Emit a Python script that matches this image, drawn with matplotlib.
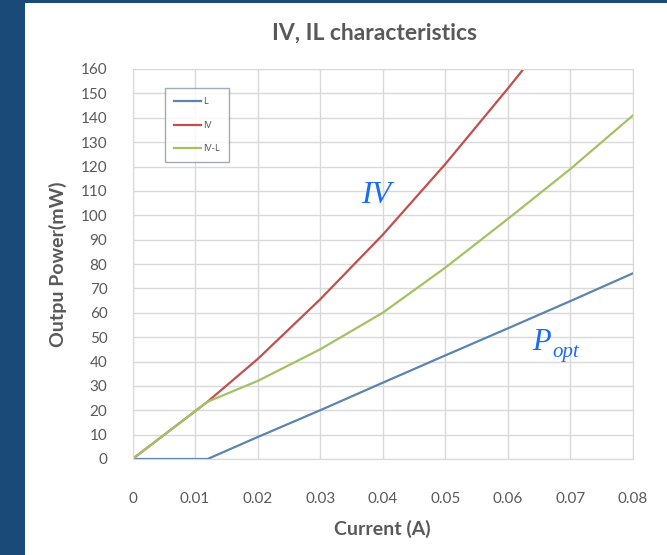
import matplotlib

matplotlib.use("Agg")
import matplotlib.pyplot as plt  # noqa: E402
from matplotlib.patches import Rectangle  # noqa: E402

CURRENT = [0.0, 0.012, 0.02, 0.03, 0.04, 0.05, 0.06, 0.07, 0.08]
L = [0.0, 0.0, 9.0, 20.0, 31.3, 42.5, 53.6, 64.8, 76.2]
IV = [0.0, 23.5, 41.0, 65.5, 92.0, 121.0, 152.0, 184.0, 217.0]
IV_MINUS_L = [0.0, 23.5, 32.0, 45.0, 60.0, 78.5, 98.5, 119.0, 141.0]
X_TICKS = [0, 0.01, 0.02, 0.03, 0.04, 0.05, 0.06, 0.07, 0.08]
X_TICK_LABELS = ["0", "0.01", "0.02", "0.03", "0.04", "0.05", "0.06", "0.07", "0.08"]
Y_TICKS = list(range(0, 161, 10))

W, H = 667, 555
TXT = "#595959"
GRID = "#d9d9d9"

plt.rcParams["font.family"] = ["Lato", "DejaVu Sans"]

fig = plt.figure(figsize=(W / 100, H / 100), dpi=100, facecolor="#1a4a78")
# white slide panel behind everything
fig.patches.append(
    Rectangle((25 / W, 0), 1 - 25 / W, 1 - 3 / H, transform=fig.transFigure,
              facecolor="white", edgecolor="none", zorder=-10)
)

ax = fig.add_axes([132.5 / W, 1 - 459 / H, (633 - 132.5) / W, (459 - 69) / H])
ax.set_zorder(1)
ax.set_facecolor("white")

ax.plot(CURRENT, L, color="#5b84b1", lw=1.6, label="L")
ax.plot(CURRENT, IV, color="#c0504d", lw=1.6, label="IV")
ax.plot(CURRENT, IV_MINUS_L, color="#a4c264", lw=1.6, label="IV-L")

ax.set_xlim(0, 0.08)
ax.set_ylim(0, 160)
ax.set_xticks(X_TICKS)
ax.set_xticklabels(X_TICK_LABELS)
ax.set_yticks(Y_TICKS)
ax.grid(True, color=GRID, lw=1)
ax.set_axisbelow(True)
for s in ax.spines.values():
    s.set_color(GRID)
ax.tick_params(length=0, colors=TXT, labelsize=11)
ax.tick_params(axis="x", pad=24)
ax.tick_params(axis="y", pad=18)

ax.set_xlabel("Current (A)", fontsize=14, fontweight="bold", color=TXT, labelpad=10)
ax.set_ylabel("Outpu Power(mW)", fontsize=14, fontweight="bold", color=TXT, labelpad=10)
fig.text(375 / W, 1 - 33 / H, "IV, IL characteristics", ha="center", va="center",
         fontsize=16.5, fontweight="bold", color=TXT)

leg = ax.legend(loc="upper left", bbox_to_anchor=(0.055, 0.962), fontsize=6.5,
                frameon=True, fancybox=False, handlelength=3, labelspacing=1.6,
                borderpad=1.0, handletextpad=0.3, labelcolor=TXT)
leg.get_frame().set_edgecolor("#8a95a5")
leg.get_frame().set_linewidth(1)

serif = ["Liberation Serif", "DejaVu Serif"]
fig.text(361 / W, 1 - 203 / H, "IV", family=serif, style="italic",
         fontsize=23, color="#1a6cf0", ha="left", va="baseline", zorder=5)
fig.text(532 / W, 1 - 350 / H, "P", family=serif, style="italic",
         fontsize=22, color="#1a6cf0", ha="left", va="baseline", zorder=5)
fig.text(552 / W, 1 - 357 / H, "opt", family=serif, style="italic",
         fontsize=15, color="#1a6cf0", ha="left", va="baseline", zorder=5)

fig.savefig("out.png", dpi=100, facecolor=fig.get_facecolor())
